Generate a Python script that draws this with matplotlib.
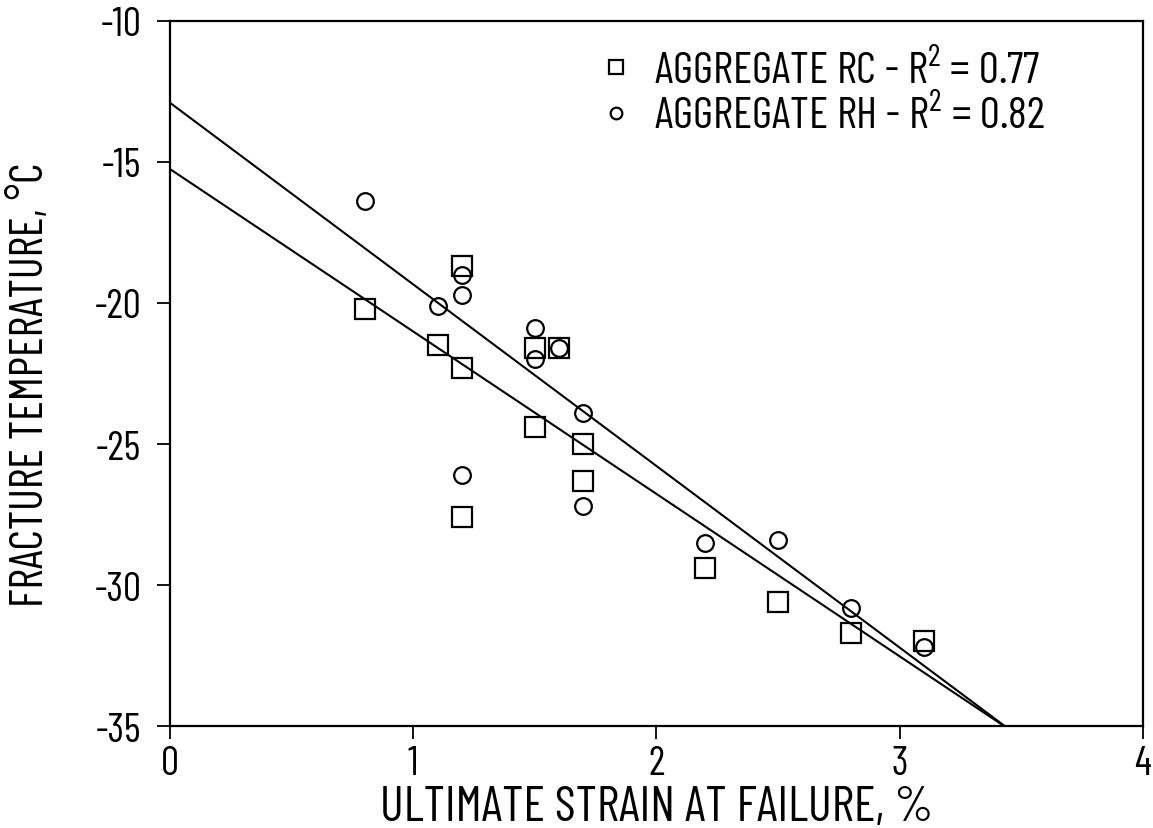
#!/usr/bin/env python3
"""Fracture temperature vs. ultimate strain at failure for two aggregates."""

import matplotlib.pyplot as plt
import numpy as np

plt.rcParams["font.family"] = ["Barlow Condensed", "DejaVu Sans"]
plt.rcParams["mathtext.fontset"] = "custom"
plt.rcParams["mathtext.rm"] = "Barlow Condensed"
plt.rcParams["axes.unicode_minus"] = False

# Aggregate RC (squares)
rc_strain = [0.8, 1.2, 1.1, 1.2, 1.2, 1.5, 1.6, 1.5, 1.7, 1.7, 2.2, 2.5, 2.8, 3.1]
rc_temp = [-20.2, -18.7, -21.5, -22.3, -27.6, -21.6, -21.6, -24.4, -25.0, -26.3,
           -29.4, -30.6, -31.7, -32.0]

# Aggregate RH (circles)
rh_strain = [0.8, 1.1, 1.2, 1.2, 1.2, 1.5, 1.5, 1.6, 1.7, 1.7, 2.2, 2.5, 2.8, 3.1]
rh_temp = [-16.4, -20.1, -19.0, -19.7, -26.1, -20.9, -22.0, -21.6, -23.9, -27.2,
           -28.5, -28.4, -30.8, -32.2]

# Linear fits: intercept, slope, R^2
rc_fit = (-15.25, -5.76, 0.77)
rh_fit = (-12.9, -6.44, 0.82)

X_LIM = (0, 4)
Y_LIM = (-35, -10)


def fit_line(intercept, slope):
    # run the line from x=0 until it reaches the bottom of the axes
    x_end = (Y_LIM[0] - intercept) / slope
    x = np.array([0.0, x_end])
    return x, intercept + slope * x


def main() -> None:
    fig = plt.figure(figsize=(11.53, 8.29), dpi=100)
    ax = fig.add_axes([0.1474, 0.123, 0.8439, 0.8505])

    ax.plot(rc_strain, rc_temp, linestyle="none", marker="s", markersize=15,
            markerfacecolor="none", markeredgecolor="black", markeredgewidth=1.6,
            label=rf"AGGREGATE RC - $\mathregular{{R^2}}$ = {rc_fit[2]:.2f}")
    ax.plot(rh_strain, rh_temp, linestyle="none", marker="o", markersize=12,
            markerfacecolor="none", markeredgecolor="black", markeredgewidth=1.6,
            label=rf"AGGREGATE RH - $\mathregular{{R^2}}$ = {rh_fit[2]:.2f}")

    for intercept, slope, _ in (rc_fit, rh_fit):
        x, y = fit_line(intercept, slope)
        ax.plot(x, y, color="black", linewidth=1.5)

    ax.set_xlim(*X_LIM)
    ax.set_ylim(*Y_LIM)
    ax.set_xticks([0, 1, 2, 3, 4])
    ax.set_yticks([-35, -30, -25, -20, -15, -10])
    ax.tick_params(direction="out", length=9.5, width=1.3, labelsize=29)
    ax.tick_params(axis="x", pad=4)
    ax.tick_params(axis="y", pad=11)
    for spine in ax.spines.values():
        spine.set_linewidth(1.6)

    ax.set_xlabel("ULTIMATE STRAIN AT FAILURE, %", fontsize=36, va="center")
    ax.xaxis.set_label_coords(0.5, -0.116)
    ax.set_ylabel("FRACTURE TEMPERATURE, °C", fontsize=33, va="center")
    ax.yaxis.set_label_coords(-0.143, 0.486)

    ax.legend(loc="upper left", frameon=False, fontsize=32, markerscale=0.7,
              handletextpad=0.4, handlelength=0.9, borderpad=0.0,
              labelspacing=0.08, bbox_to_anchor=(0.415, 0.992))

    fig.savefig("out.png", dpi=100)
    plt.close(fig)


if __name__ == "__main__":
    main()
